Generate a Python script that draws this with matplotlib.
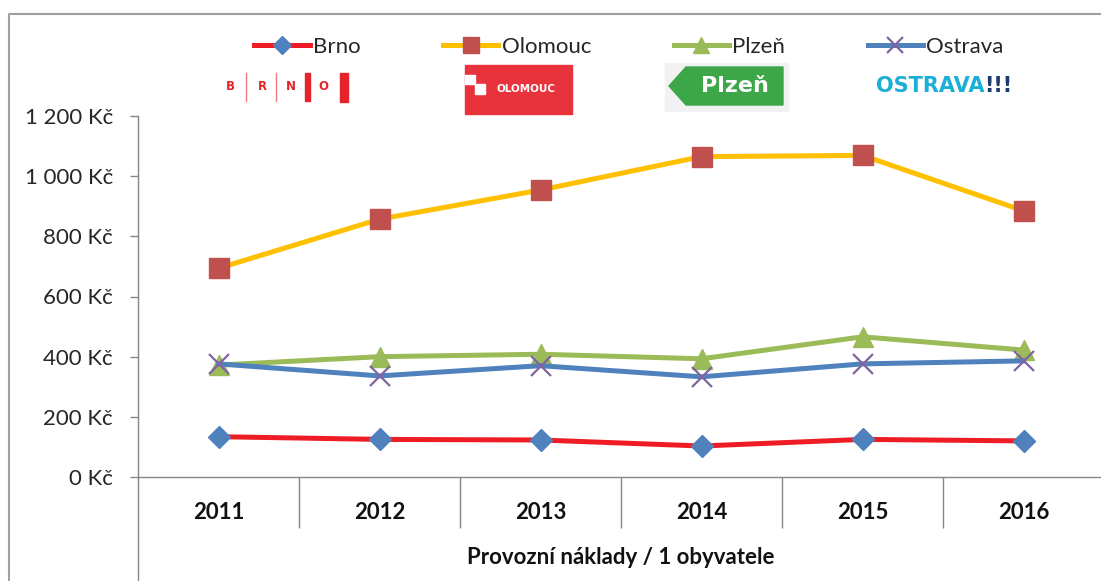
import matplotlib
matplotlib.use('Agg')
import numpy as np
import matplotlib.pyplot as plt
from matplotlib import ticker, transforms
from matplotlib.lines import Line2D
from matplotlib.patches import Rectangle, Polygon

years = ['2011', '2012', '2013', '2014', '2015', '2016']
brno = [134, 125, 123, 103, 125, 120]
olomouc = [694, 857, 954, 1065, 1069, 885]
plzen = [372, 400, 408, 393, 466, 422]
ostrava = [376, 336, 370, 333, 376, 386]

W, H = 1101, 581
grey = '#868686'
txt = '#262626'

plt.rcParams['font.family'] = ['Lato', 'DejaVu Sans']

fig = plt.figure(figsize=(W / 100, H / 100), dpi=100)
ax = fig.add_axes([138 / W, 104 / H, 966 / W, 361 / H])
# pixel coords (top-left origin) for the decorations
px = transforms.Affine2D().scale(1 / W, -1 / H).translate(0, 1) + fig.transFigure

x = np.arange(len(years))
ax.plot(x, brno, color='#EE1D25', lw=3.6, marker='D', ms=11, mfc='#4F81BD', mec='#4F81BD', label='Brno')
ax.plot(x, olomouc, color='#FFC000', lw=3.6, marker='s', ms=14, mfc='#C0504D', mec='#C0504D', label='Olomouc')
ax.plot(x, plzen, color='#9BBB59', lw=3.6, marker='^', ms=14, mfc='#9BBB59', mec='#9BBB59', label='Plzeň')
ax.plot(x, ostrava, color='#4F81BD', lw=3.6, marker='x', ms=14, mew=1.6, mec='#8064A2', label='Ostrava')

ax.set_xlim(-0.5, len(years) - 0.5)
ax.set_ylim(0, 1200)
for s in ['top', 'right']:
    ax.spines[s].set_visible(False)
for s in ['left', 'bottom']:
    ax.spines[s].set_color(grey)
    ax.spines[s].set_linewidth(1)

ax.yaxis.set_major_locator(ticker.MultipleLocator(200))
ax.yaxis.set_major_formatter(ticker.FuncFormatter(lambda v, p: f'{v:,.0f}'.replace(',', ' ') + ' Kč'))
ax.tick_params(axis='y', length=6, width=1, color=grey, pad=12, labelsize=16, labelcolor=txt)

ax.set_xticks(x, years, fontweight='bold')
ax.set_xticks(x[:-1] + 0.5, minor=True)
ax.tick_params(axis='x', which='major', length=0, pad=18, labelsize=16, labelcolor='#111111')
ax.tick_params(axis='x', which='minor', length=36.5, width=1, color=grey)
ax.plot([0, 0], [0, -0.3], transform=ax.transAxes, color=grey, lw=1, clip_on=False)

ax.set_xlabel('Provozní náklady / 1 obyvatele', fontweight='bold', fontsize=16, color='#111111')
ax.xaxis.set_label_coords(0.5, -(558 - 477) / 361)
ax.xaxis.label.set_va('center')

# outer chart frame
fig.add_artist(Line2D([9, 9, W], [H, 14, 14], transform=px, color='#A0A0A0', lw=1.5))

leg = fig.legend(loc='center', bbox_to_anchor=(629 / W, 1 - 47 / H), ncol=4, frameon=False,
                 fontsize=16, handlelength=2.5, handletextpad=0.15, columnspacing=3.7,
                 borderpad=0, borderaxespad=0, markerscale=0.8)
for t in leg.get_texts():
    t.set_color(txt)

# Brno logo
for letter, lx in zip('BRNO', [230, 262, 291, 323]):
    fig.text(lx, 87, letter, transform=px, color='#E4232B', fontweight='bold', fontsize=8.5,
             ha='center', va='center', family='DejaVu Sans')
for bx in [246, 276]:
    fig.add_artist(Line2D([bx, bx], [73, 101], transform=px, color='#EE7A80', lw=1))
fig.add_artist(Rectangle((305, 73), 5, 28, transform=px, color='#E4232B'))
fig.add_artist(Rectangle((340, 73), 8, 29, transform=px, color='#E4232B'))

# Olomouc logo
fig.add_artist(Rectangle((465, 65), 107, 49, transform=px, color='#E8323C'))
fig.add_artist(Rectangle((465, 75), 10, 9, transform=px, color='white'))
fig.add_artist(Rectangle((475, 84), 10, 10, transform=px, color='white'))
fig.text(526, 89, 'OLOMOUC', transform=px, color='white', fontweight='bold', fontsize=7.5,
         ha='center', va='center', family='DejaVu Sans')

# Plzen logo
fig.add_artist(Rectangle((665, 63), 123, 48, transform=px, color='#F2F2F2'))
fig.add_artist(Polygon([(669, 86), (686, 67), (783, 67), (783, 105), (686, 105)], transform=px, color='#3DA648'))
fig.text(735, 86, 'Plzeň', transform=px, color='white', fontweight='bold', fontsize=16,
         ha='center', va='center', family='DejaVu Sans')

# Ostrava logo
t_os = fig.text(876, 86, 'OSTRAVA', transform=px, color='#1AAFD6', fontweight='bold', fontsize=15,
                ha='left', va='center', family='DejaVu Sans')
ax.annotate('!!!', xy=(1, 0), xycoords=t_os, ha='left', va='bottom', color='#1F3A6E',
            fontweight='bold', fontsize=15, family='DejaVu Sans', annotation_clip=False)

fig.savefig('out.png', dpi=100)
